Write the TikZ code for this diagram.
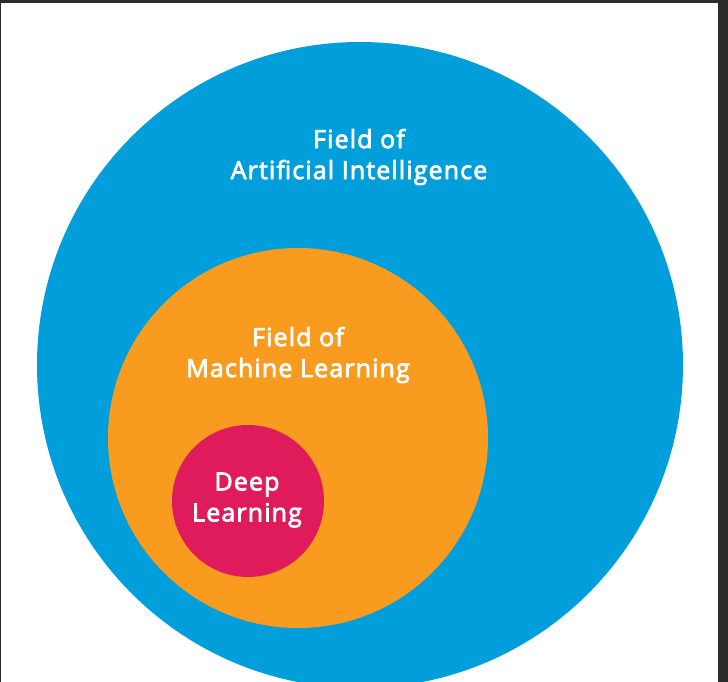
\documentclass[tikz,border=0pt]{standalone}
\usepackage{fontspec}
\setmainfont{Open Sans}[FakeBold=3,LetterSpace=4.5]
\definecolor{aiblue}{HTML}{009FDB}
\definecolor{mlorange}{HTML}{F89B1E}
\definecolor{dlred}{HTML}{E01B5B}
\definecolor{frame}{HTML}{2B2B2B}
\tikzset{
  field/.style={circle, inner sep=0pt, draw=none},
  label/.style={text=white, align=center, font=\fontsize{25}{31}\selectfont, inner sep=0pt},
}
\begin{document}
\begin{tikzpicture}[x=1pt,y=-1pt]
\useasboundingbox (0,0) rectangle (728,682);
\fill[white] (0,0) rectangle (728,682);
\begin{scope}
\clip (0,0) rectangle (728,682);
\node[field, fill=aiblue, minimum size=646pt] (ai) at (360,365) {};
\node[field, fill=mlorange, minimum size=380pt] (ml) at (298,438) {};
\node[field, fill=dlred, minimum size=152pt] (dl) at (248,501) {};
\end{scope}
\node[label] (ait) at (359,157) {Field of\\Artificial Intelligence};
\node[label] (mlt) at (298,355) {Field of\\Machine Learning};
\node[label] (dlt) at (247,500) {Deep\\Learning};
% screenshot frame
\fill[frame] (0,0) rectangle (728,3);
\fill[frame] (718,0) rectangle (728,682);
\fill[frame] (0,0) rectangle (1,682);
\end{tikzpicture}
\end{document}
